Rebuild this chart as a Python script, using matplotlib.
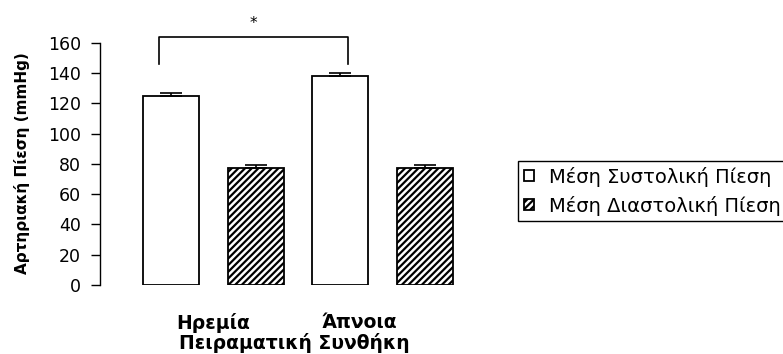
import matplotlib
matplotlib.use("Agg")
import matplotlib.pyplot as plt
import numpy as np

plt.rcParams['font.family'] = ['DejaVu Sans']
plt.rcParams['hatch.linewidth'] = 1.6

# Data
positions = [0, 1, 2, 3]
values = [124.5, 77.5, 138.0, 77.5]
errors = [2.0, 1.8, 2.3, 1.8]
hatches = ['', '/////', '', '/////']
group_labels = ['Ηρεμία', 'Άπνοια']
group_pos = [0.5, 2.23]
series_labels = ['Μέση Συστολική Πίεση', 'Μέση Διαστολική Πίεση']
yticks = [0, 20, 40, 60, 80, 100, 120, 140, 160]
bracket_x = [-0.14, 2.09]
bracket_y = [145.7, 163.6]

fig = plt.figure(figsize=(7.83, 3.54), dpi=100)
ax = fig.add_axes([100/783, 69/354, 370/783, 242.3/354])

bars = []
for p, v, h in zip(positions, values, hatches):
    b = ax.bar(p, v, width=0.66, color='white', edgecolor='black', linewidth=1.3, hatch=h)
    bars.append(b)
ax.errorbar(positions, values, yerr=[np.zeros(len(errors)), errors], fmt='none',
            ecolor='black', elinewidth=1.2, capsize=8, capthick=1.2)

ax.set_xlim(-0.835, 3.53)
ax.set_ylim(0, 160)
ax.set_yticks(yticks)
ax.tick_params(axis='y', direction='out', length=6.5, width=1, labelsize=12.5, pad=7)
ax.set_xticks(group_pos)
ax.set_xticklabels(group_labels, fontsize=13.5, fontweight='bold')
ax.tick_params(axis='x', length=0, pad=20)
for s in ['top', 'right', 'bottom']:
    ax.spines[s].set_visible(False)
ax.spines['left'].set_linewidth(1)

ax.set_ylabel('Αρτηριακή Πίεση (mmHg)', fontsize=11, fontweight='bold')
ax.yaxis.set_label_coords(-0.19, 0.505)
ax.set_xlabel('Πειραματική Συνθήκη', fontsize=13.5, fontweight='bold')
ax.xaxis.set_label_coords(0.524, -0.2)

# significance bracket
ax.plot([bracket_x[0], bracket_x[0], bracket_x[1], bracket_x[1]],
        [bracket_y[0], bracket_y[1], bracket_y[1], bracket_y[0]],
        color='black', linewidth=1.2, clip_on=False)
ax.text(np.mean(bracket_x), 173, '*', ha='center', va='center', fontsize=11, clip_on=False)

leg = fig.legend([bars[0], bars[1]], series_labels, loc='upper left',
                 bbox_to_anchor=(518/783, 1 - 161/354), borderaxespad=0, fontsize=14,
                 handlelength=0.5, handleheight=0.5, handletextpad=0.8,
                 fancybox=False, framealpha=1, edgecolor='black',
                 borderpad=0.3, labelspacing=0.45)
leg.get_frame().set_linewidth(1)

fig.savefig('out.png', dpi=100)
